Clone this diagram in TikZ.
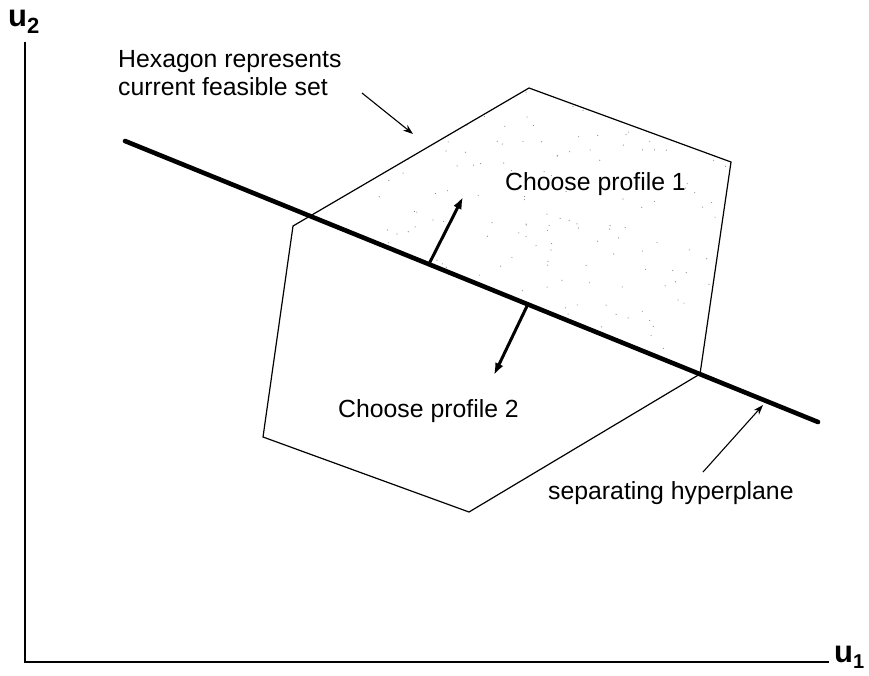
\documentclass[tikz,border=0pt]{standalone}
\usepackage{fontspec}
\setmainfont{Liberation Sans}
\usetikzlibrary{arrows.meta}
\begin{document}
\begin{tikzpicture}[x=1pt,y=-1pt,
  axis/.style={line width=1.1pt},
  edge/.style={line width=1.2pt, line join=miter},
  plane/.style={line width=4.6pt, line cap=round},
  normal/.style={line width=3pt, -{Latex[length=12pt,width=9pt]}},
  pointer/.style={line width=1.1pt, -{Stealth[length=10pt,width=7pt]}},
  lbl/.style={font=\fontsize{24.8}{28}\selectfont, inner sep=0pt},
  axlbl/.style={font=\bfseries\fontsize{31}{31}\selectfont, inner sep=0pt}]
\useasboundingbox (0,0) rectangle (869,675);

% axes
\coordinate (ytop) at (25,42);
\coordinate (origin) at (25,662);
\coordinate (xend) at (829,662);

% feasible hexagon
\coordinate (A) at (529,88);
\coordinate (B) at (731,162);
\coordinate (C) at (700,374);
\coordinate (D) at (469,512);
\coordinate (E) at (263,437);
\coordinate (F) at (293,226);
% where the hyperplane cuts edge F--A
\coordinate (P) at (309,216);

% separating hyperplane
\coordinate (L1) at (125,141);
\coordinate (L2) at (818,422);

% normals
\coordinate (n1s) at (429,264);
\coordinate (n1e) at (463,197);
\coordinate (n2s) at (528,304);
\coordinate (n2e) at (494,375);

% stippled half above the hyperplane
\begin{scope}
  \clip (P) -- (A) -- (B) -- (C) -- cycle;
  \pgfmathsetseed{11}
  \foreach \i in {1,...,260} {
    \pgfmathsetmacro{\px}{300+440*rnd}
    \pgfmathsetmacro{\py}{85+290*rnd}
    \fill[black!45] (\px,\py) circle (0.6pt);
  }
\end{scope}

\draw[edge] (A) -- (B) -- (C) -- (D) -- (E) -- (F) -- cycle;
\draw[plane] (L1) -- (L2);
\draw[axis] (ytop) -- (origin) -- (xend);

\draw[normal] (n1s) -- (n1e);
\draw[normal] (n2s) -- (n2e);

% labels
\node[lbl, align=left, anchor=north west] (hex) at (118,50)
  {Hexagon represents\\current feasible set};
\node[lbl, anchor=base west] (p1) at (505,190) {Choose profile 1};
\node[lbl, anchor=base west] (p2) at (338,417) {Choose profile 2};
\node[lbl, anchor=base west] (sep) at (548,499) {separating hyperplane};

\coordinate (hexfrom) at (362,93);
\coordinate (hexto) at (413,134);
\coordinate (sepfrom) at (703,472);
\coordinate (septo) at (763,405);
\draw[pointer] (hexfrom) -- (hexto);
\draw[pointer] (sepfrom) -- (septo);

\node[axlbl, anchor=base west] (u2) at (8,26)
  {u\raisebox{-7pt}{\fontsize{22}{22}\selectfont 2}};
\node[axlbl, anchor=base west] (u1) at (834,662)
  {u\raisebox{-6pt}{\fontsize{20}{20}\selectfont 1}};
\end{tikzpicture}
\end{document}
